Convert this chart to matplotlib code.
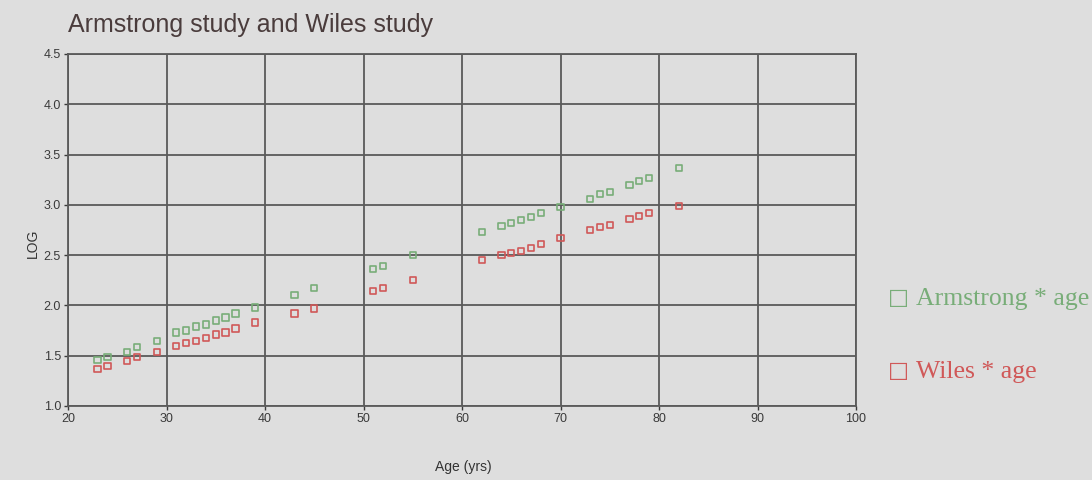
import matplotlib
matplotlib.use("Agg")
import matplotlib.pyplot as plt

# Data
arm_age = [23, 24, 26, 27, 29, 31, 32, 33, 34, 35, 36, 37, 39, 43, 45,
           51, 52, 55, 62, 64, 65, 66, 67, 68, 70, 73, 74, 75, 77, 78, 79, 82]
arm_log = [1.46, 1.49, 1.54, 1.59, 1.65, 1.73, 1.75, 1.79, 1.81, 1.85, 1.88, 1.92, 1.98, 2.10, 2.17,
           2.36, 2.39, 2.50, 2.73, 2.79, 2.82, 2.85, 2.88, 2.92, 2.98, 3.06, 3.11, 3.13, 3.20, 3.24, 3.27, 3.37]
wil_age = [23, 24, 26, 27, 29, 31, 32, 33, 34, 35, 36, 37, 39, 43, 45,
           51, 52, 55, 62, 64, 65, 66, 67, 68, 70, 73, 74, 75, 77, 78, 79, 82]
wil_log = [1.37, 1.40, 1.45, 1.49, 1.54, 1.60, 1.63, 1.65, 1.68, 1.71, 1.73, 1.77, 1.83, 1.92, 1.97,
           2.14, 2.17, 2.25, 2.45, 2.50, 2.52, 2.54, 2.57, 2.61, 2.67, 2.75, 2.78, 2.80, 2.86, 2.89, 2.92, 2.99]
x_ticks = [20, 30, 40, 50, 60, 70, 80, 90, 100]
y_ticks = [1.0, 1.5, 2.0, 2.5, 3.0, 3.5, 4.0, 4.5]
legend_labels = ["Armstrong * age", "Wiles * age"]

bg = "#dedede"
green = "#78ad78"
red = "#d05858"

fig = plt.figure(figsize=(10.92, 4.8), dpi=100, facecolor=bg)
ax = fig.add_axes([68/1092, 1 - 406/480, (856-68)/1092, (406-54)/480])
ax.set_facecolor(bg)

ax.scatter(arm_age, arm_log, marker="s", s=20, facecolors="none", edgecolors=green, linewidths=1.2, zorder=3)
ax.scatter(wil_age, wil_log, marker="s", s=20, facecolors="none", edgecolors=red, linewidths=1.2, zorder=3)

ax.set_xlim(20, 100)
ax.set_ylim(1.0, 4.5)
ax.set_xticks(x_ticks)
ax.set_xticklabels([str(t) for t in x_ticks])
ax.set_yticks(y_ticks)
ax.set_yticklabels([f"{t:.1f}" for t in y_ticks])
ax.grid(True, color="#5a5a5a", linewidth=1.3, zorder=1)
for s in ax.spines.values():
    s.set_color("#5a5a5a")
    s.set_linewidth(1.3)
ax.tick_params(axis="both", labelsize=9, colors="#3a3a3a", length=3, width=1, pad=2)
ax.set_axisbelow(True)

fam = ["Liberation Sans", "DejaVu Sans"]
for lab in ax.get_xticklabels() + ax.get_yticklabels():
    lab.set_family(fam)

fig.text(68/1092, 1 - 25/480, "Armstrong study and Wiles study", fontsize=18, color="#4a3c3c",
         family=fam, ha="left", va="center")
fig.text(33/1092, 1 - 243/480, "LOG", fontsize=10, color="#333333", rotation=90,
         family=fam, ha="center", va="center")
fig.text(463/1092, 1 - 467/480, "Age (yrs)", fontsize=10, color="#333333",
         family=fam, ha="center", va="center")

serif = ["Liberation Serif", "DejaVu Serif"]
for lbl, col, ypix in zip(legend_labels, [green, red], [299, 372]):
    fig.text(888/1092, 1 - (ypix - 1)/480, "\u25a1", fontsize=16, color=col,
             family=["DejaVu Sans"], ha="left", va="center")
    fig.text(916/1092, 1 - ypix/480, lbl, fontsize=18.5, color=col,
             family=serif, ha="left", va="center")

fig.savefig("out.png", dpi=100, facecolor=bg)
